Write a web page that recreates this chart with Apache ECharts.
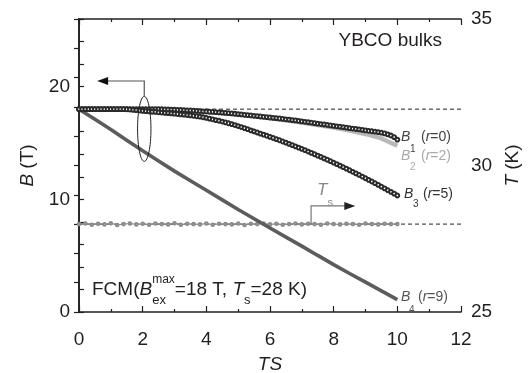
<!DOCTYPE html>
<html><head><meta charset="utf-8">
<script src="https://cdn.jsdelivr.net/npm/echarts@6/dist/echarts.min.js"></script>
<style>html,body{margin:0;padding:0;background:#fff}#c{width:531px;height:373px}</style>
</head><body><div id="c"></div>
<script>
// ---- data ----
const fineStep = 0.1;   // sampling step of B1 and B3 (TS)
const b1Values = [18.00,18.00,18.00,18.00,18.00,18.00,18.00,18.00,18.00,18.00,18.00,18.00,18.00,18.00,18.00,18.00,18.00,18.00,18.00,18.00,18.00,18.00,18.00,18.00,18.00,18.00,
17.99,17.98,17.97,17.96,17.95,17.94,17.93,17.92,17.90,17.89,17.87,17.85,17.83,17.81,17.79,17.77,17.75,17.73,17.71,17.69,17.67,17.64,17.62,17.59,17.56,17.53,17.50,17.47,17.44,17.41,17.38,17.35,17.32,17.29,17.26,17.23,17.20,17.17,17.14,17.10,17.07,17.03,17.00,16.96,16.92,16.88,16.84,16.80,16.76,16.72,16.68,16.64,16.60,16.56,16.52,16.48,16.44,16.40,16.36,16.32,16.28,16.24,16.20,16.16,16.12,16.08,16.04,16.00,15.96,15.91,15.85,15.76,15.66,15.52,15.30];
const b3Values = [18.00,18.00,18.00,18.00,18.00,18.00,18.00,18.00,18.00,18.00,18.00,18.00,18.00,18.00,18.00,
17.99,17.97,17.94,17.91,17.88,17.85,17.82,17.80,17.77,17.75,17.72,17.70,17.67,17.65,17.62,17.60,17.57,17.54,17.51,17.48,17.45,17.41,17.37,17.33,17.28,17.22,17.16,17.10,17.03,16.97,16.90,16.83,16.75,16.67,16.59,16.50,16.41,16.32,16.22,16.12,16.02,15.93,15.83,15.74,15.64,15.54,15.44,15.34,15.24,15.13,15.03,14.92,14.81,14.70,14.59,14.47,14.36,14.24,14.12,14.00,13.88,13.76,13.63,13.51,13.38,13.25,13.12,12.99,12.85,12.72,12.58,12.44,12.30,12.16,12.02,11.87,11.72,11.58,11.43,11.28,11.12,10.97,10.81,10.66,10.50,10.34];
const coarseTS = [0,0.5,1,1.5,2,2.5,3,3.5,4,4.5,5,5.5,6,6.5,7,7.5,8,8.5,9,9.5,10];
const b2Values = [18.00,18.00,18.00,18.00,17.99,17.97,17.92,17.85,17.76,17.65,17.52,17.37,17.20,17.02,16.82,16.60,16.36,16.10,15.80,15.40,14.75];
const b4Values = [18.00,17.10,16.20,15.25,14.30,13.40,12.50,11.65,10.80,9.95,9.10,8.27,7.45,6.65,5.85,5.02,4.20,3.42,2.65,1.87,1.10];
const tsStep = 0.2;
const tsValues = [28.00,28.02,27.98,28.01,27.99,28.03,27.97,28.00,28.02,27.99,28.01,27.98,28.02,28.00,27.99,28.03,27.98,28.01,28.00,27.99,28.02,27.98,28.01,28.00,27.99,28.02,27.97,28.01,28.00,28.02,27.99,28.01,27.98,28.00,28.02,27.99,28.01,28.00,27.98,28.02,28.00,27.99,28.01,28.00,27.98,28.02,28.00,27.99,28.01,28.00,28.00];
const bMaxRef = 18;   // B_ex^max
const tsRef = 28;     // T_s
const xTicks = {min:0, max:12, interval:2};
const yLeft = {min:0, max:26, interval:2, labelEvery:10};
const yRight = {min:25, max:35, interval:5};

// ---- build ----
const pairs = (vals, step) => vals.map((v,i)=>[+(i*step).toFixed(2), v]);
const zip = (xs, ys) => xs.map((x,i)=>[x, ys[i]]);
const AX = '#231f20';
const FONT = 'Arial, "Liberation Sans", Helvetica, sans-serif';
const FS = 19;

const chart = echarts.init(document.getElementById('c'), null, {renderer:'canvas'});
const tickStyle = {color:AX, width:1.2};
const axisLine = {lineStyle:{color:AX, width:1.6}};
const nameStyle = {color:AX, fontSize:FS, fontFamily:FONT, rich:{i:{fontStyle:'italic', fontSize:FS, fontFamily:FONT, color:AX}}};
const option = {
  animation:false,
  backgroundColor:'#fff',
  grid:{left:79, right:70, top:19, bottom:61, containLabel:false, outerBoundsMode:'none'},
  xAxis:[
    {type:'value', position:'bottom', min:xTicks.min, max:xTicks.max, interval:xTicks.interval,
      axisLine, splitLine:{show:false},
      axisTick:{inside:true, length:6, lineStyle:tickStyle},
      minorTick:{show:true, splitNumber:2, length:3, lineStyle:tickStyle},
      axisLabel:{color:AX, fontSize:FS, fontFamily:FONT, margin:18},
      name:'TS', nameLocation:'middle', nameGap:43,
      nameTextStyle:{color:AX, fontSize:FS, fontStyle:'italic', fontFamily:FONT}},
    {type:'value', position:'top', min:xTicks.min, max:xTicks.max, interval:xTicks.interval,
      axisLine, splitLine:{show:false},
      axisTick:{inside:true, length:6, lineStyle:tickStyle},
      minorTick:{show:true, splitNumber:2, length:3, lineStyle:tickStyle},
      axisLabel:{show:false}}
  ],
  yAxis:[
    {type:'value', position:'left', min:yLeft.min, max:yLeft.max, interval:yLeft.interval,
      axisLine, splitLine:{show:false},
      axisTick:{inside:true, length:5, lineStyle:tickStyle},
      axisLabel:{color:AX, fontSize:FS, fontFamily:FONT, margin:9,
        formatter:v=> (v % yLeft.labelEvery === 0 ? String(v) : '')},
      name:'{i|B} (T)', nameLocation:'middle', nameGap:42, nameTextStyle:nameStyle},
    {type:'value', position:'right', min:yRight.min, max:yRight.max, interval:yRight.interval,
      axisLine, splitLine:{show:false},
      axisTick:{inside:true, length:5, lineStyle:tickStyle},
      minorTick:{show:true, splitNumber:5, length:5, lineStyle:tickStyle},
      axisLabel:{color:AX, fontSize:FS, fontFamily:FONT, margin:10},
      name:'{i|T} (K)', nameLocation:'middle', nameGap:41, nameTextStyle:nameStyle}
  ],
  series:[
    {name:'refB', type:'line', data:[[xTicks.min,bMaxRef],[xTicks.max,bMaxRef]], symbol:'none', silent:true,
      lineStyle:{color:'#222', width:1, type:[4,3]}, z:1},
    {name:'refT', type:'line', yAxisIndex:1, data:[[xTicks.min,tsRef],[xTicks.max,tsRef]], symbol:'none', silent:true,
      lineStyle:{color:'#222', width:1, type:[4,3]}, z:1},
    {name:'Ts', type:'line', yAxisIndex:1, data:pairs(tsValues, tsStep), symbol:'emptyCircle', symbolSize:2.6, showAllSymbol:true,
      lineStyle:{color:'#8a8a8a', width:1.2}, itemStyle:{color:'#8a8a8a', borderWidth:0.8}, z:2},
    {name:'B4', type:'line', data:zip(coarseTS, b4Values), symbol:'none', lineStyle:{color:'#5c5c5c', width:3.6}, z:3},
    {name:'B2', type:'line', data:zip(coarseTS, b2Values), symbol:'none', lineStyle:{color:'#b9b9b9', width:4.5}, z:3},
    {name:'B1', type:'line', data:pairs(b1Values, fineStep), symbol:'emptyCircle', symbolSize:3.8, showAllSymbol:true,
      lineStyle:{color:'#2a2a2a', width:0.8}, itemStyle:{color:'#2a2a2a', borderWidth:0.9}, z:4},
    {name:'B3', type:'line', data:pairs(b3Values, fineStep), symbol:'emptyCircle', symbolSize:3.8, showAllSymbol:true,
      lineStyle:{color:'#2a2a2a', width:0.8}, itemStyle:{color:'#2a2a2a', borderWidth:0.9}, z:4}
  ]
};
chart.setOption(option);

// ---- annotations ----
const cv = document.createElement('canvas').getContext('2d');
function w(t, size, italic){ cv.font = (italic?'italic ':'') + size + 'px ' + FONT; return cv.measureText(t).width; }
function runs(x, y, parts, color){
  // parts: [text, size, italic, dy, stack]
  const els = []; let cx = x; let pendingW = 0;
  parts.forEach(p=>{
    const [t, size, italic, dy, stack] = p;
    els.push({type:'text', silent:true, z:100, style:{text:t, x:cx, y:y+(dy||0), fill:color,
      font:(italic?'italic ':'')+size+'px '+FONT, textAlign:'left', textVerticalAlign:'middle'}});
    const ww = w(t,size,italic);
    if (stack) { pendingW = Math.max(pendingW, ww); }
    else { cx += Math.max(ww, pendingW); pendingW = 0; }
  });
  return els;
}
const P = (x,y)=>chart.convertToPixel({xAxisIndex:0, yAxisIndex:0},[x,y]);
const PT = (x,y)=>chart.convertToPixel({xAxisIndex:0, yAxisIndex:1},[x,y]);
const g = [];
// ellipse and left arrow
const ec = P(2.05, 16.25);
g.push({type:'ellipse', silent:true, z:100, shape:{cx:ec[0], cy:ec[1], rx:6.7, ry:32.5}, style:{fill:'none', stroke:'#222', lineWidth:1}});
const aTop = P(2.05, 20.5), aTip = P(0.57, 20.5);
g.push({type:'polyline', silent:true, z:100, shape:{points:[[ec[0], ec[1]-32.5],[aTop[0], aTop[1]],[aTip[0]+8, aTip[1]]]}, style:{stroke:'#555', lineWidth:1.2, fill:null}});
g.push({type:'polygon', silent:true, z:100, shape:{points:[[aTip[0],aTip[1]],[aTip[0]+11,aTip[1]-4],[aTip[0]+11,aTip[1]+4]]}, style:{fill:'#111'}});
// Ts arrow
const tBase = PT(7.29, tsRef), tCorner = PT(7.29, 28.62), tTip = PT(8.68, 28.62);
g.push({type:'polyline', silent:true, z:100, shape:{points:[[tBase[0],tBase[1]],[tCorner[0],tCorner[1]],[tTip[0]-8,tTip[1]]]}, style:{stroke:'#777', lineWidth:1.2, fill:null}});
g.push({type:'polygon', silent:true, z:100, shape:{points:[[tTip[0],tTip[1]],[tTip[0]-11,tTip[1]-4],[tTip[0]-11,tTip[1]+4]]}, style:{fill:'#222'}});
g.push(...runs(tCorner[0]+6, tCorner[1]-16, [['T',17,true,0],['s',11,false,13]], '#888'));
// series labels
g.push(...runs(401, 137, [['B',14,true,0]], '#444'));
g.push(...runs(410, 149, [['1',10,false,0]], '#444'));
g.push(...runs(421, 137, [['(',14,false,0],['r',14,true,0],['=0)',14,false,0]], '#444'));
g.push(...runs(401, 156, [['B',14,true,0]], '#aaa'));
g.push(...runs(410, 167, [['2',10,false,0]], '#aaa'));
g.push(...runs(421, 156, [['(',14,false,0],['r',14,true,0],['=2)',14,false,0]], '#aaa'));
g.push(...runs(404, 194, [['B',14,true,0]], '#333'));
g.push(...runs(413, 204, [['3',10,false,0]], '#333'));
g.push(...runs(423, 194, [['(',14,false,0],['r',14,true,0],['=5)',14,false,0]], '#333'));
g.push(...runs(401, 297, [['B',14,true,0]], '#555'));
g.push(...runs(409, 310, [['4',10,false,0]], '#555'));
g.push(...runs(418, 297, [['(',14,false,0],['r',14,true,0],['=9)',14,false,0]], '#555'));
// texts
const yb = 'YBCO bulks';
g.push(...runs(442 - w(yb, FS, false), 41, [[yb,FS,false,0]], AX));
g.push(...runs(92, 290, [['FCM(',FS,false,0],['B',FS,true,0],['max',12,false,-10,true],['ex',13,false,10],['=18 T, ',FS,false,0],['T',FS,true,0],['s',13,false,10],['=28 K)',FS,false,0]], AX));
chart.setOption({graphic:{elements:g}});
</script></body></html>
